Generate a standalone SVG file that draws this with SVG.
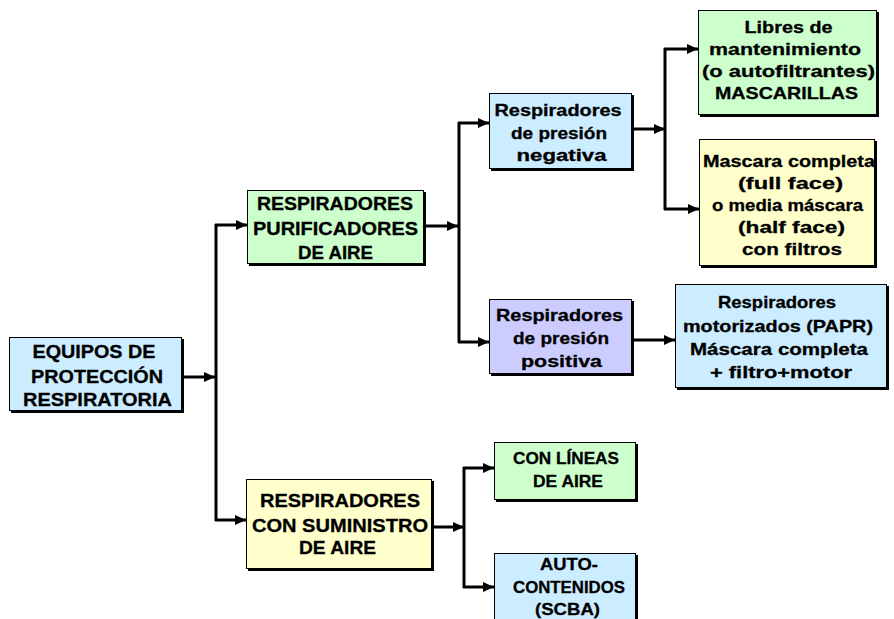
<svg xmlns="http://www.w3.org/2000/svg" width="894" height="619" viewBox="0 0 894 619">
<defs>
<style>
.sh{fill:#000}
.bx{stroke:#000;stroke-width:1}
.blue{fill:#CCECFF}
.green{fill:#CCFFCC}
.yellow{fill:#FFFFCC}
.purple{fill:#CCCCFF}
text{font-family:"Liberation Sans",Arial,sans-serif;font-weight:bold;fill:#000;stroke:#000;stroke-width:0.3;text-anchor:middle}
.f19{font-size:19px}
.f18{font-size:18px}
.f17{font-size:17px}
.f16{font-size:16.5px}
.ln{fill:none;stroke:#000;stroke-width:3}
</style>
<marker id="ah" markerUnits="userSpaceOnUse" markerWidth="12" markerHeight="10" refX="11" refY="5" orient="auto">
<path d="M0,0 L11,5 L0,10 Z" fill="#000"/>
</marker>
</defs>
<rect width="894" height="619" fill="#fff"/>

<g id="connectors">
<line class="ln" x1="184" y1="377" x2="215" y2="377" marker-end="url(#ah)"/>
<line class="ln" x1="216" y1="224" x2="216" y2="521"/>
<line class="ln" x1="215" y1="225" x2="247" y2="225" marker-end="url(#ah)"/>
<line class="ln" x1="215" y1="520" x2="246" y2="520" marker-end="url(#ah)"/>

<line class="ln" x1="426" y1="226" x2="458" y2="226" marker-end="url(#ah)"/>
<line class="ln" x1="459" y1="122" x2="459" y2="343"/>
<line class="ln" x1="458" y1="123" x2="489" y2="123" marker-end="url(#ah)"/>
<line class="ln" x1="458" y1="342" x2="489" y2="342" marker-end="url(#ah)"/>

<line class="ln" x1="634" y1="129" x2="665" y2="129" marker-end="url(#ah)"/>
<line class="ln" x1="665" y1="48" x2="665" y2="210"/>
<line class="ln" x1="664" y1="49" x2="698" y2="49" marker-end="url(#ah)"/>
<line class="ln" x1="664" y1="209" x2="699" y2="209" marker-end="url(#ah)"/>

<line class="ln" x1="634" y1="340" x2="675" y2="340" marker-end="url(#ah)"/>

<line class="ln" x1="434" y1="527" x2="464" y2="527" marker-end="url(#ah)"/>
<line class="ln" x1="464" y1="467" x2="464" y2="588"/>
<line class="ln" x1="463" y1="468" x2="494" y2="468" marker-end="url(#ah)"/>
<line class="ln" x1="463" y1="587" x2="494" y2="587" marker-end="url(#ah)"/>
</g>

<g id="equipos">
<rect class="sh" x="11" y="339" width="173" height="74"/>
<rect class="bx blue" x="9.5" y="337.5" width="172" height="73"/>
<text class="f19" x="94" y="358" textLength="123" lengthAdjust="spacingAndGlyphs">EQUIPOS DE</text>
<text class="f19" x="97" y="383" textLength="132" lengthAdjust="spacingAndGlyphs">PROTECCIÓN</text>
<text class="f19" x="97.5" y="406" textLength="149" lengthAdjust="spacingAndGlyphs">RESPIRATORIA</text>
</g>

<g id="purificadores">
<rect class="sh" x="249" y="192" width="177" height="74"/>
<rect class="bx green" x="247.5" y="190.5" width="176" height="73"/>
<text class="f18" x="335" y="210" textLength="156" lengthAdjust="spacingAndGlyphs">RESPIRADORES</text>
<text class="f18" x="335.5" y="235" textLength="165" lengthAdjust="spacingAndGlyphs">PURIFICADORES</text>
<text class="f18" x="335.5" y="259" textLength="75" lengthAdjust="spacingAndGlyphs">DE AIRE</text>
</g>

<g id="suministro">
<rect class="sh" x="248" y="481" width="186" height="90"/>
<rect class="bx yellow" x="246.5" y="479.5" width="185" height="89"/>
<text class="f18" x="340" y="507" textLength="160" lengthAdjust="spacingAndGlyphs">RESPIRADORES</text>
<text class="f18" x="340" y="532" textLength="176" lengthAdjust="spacingAndGlyphs">CON SUMINISTRO</text>
<text class="f18" x="337.5" y="554" textLength="77" lengthAdjust="spacingAndGlyphs">DE AIRE</text>
</g>

<g id="negativa">
<rect class="sh" x="491" y="95" width="143" height="76"/>
<rect class="bx blue" x="489.5" y="93.5" width="142" height="75"/>
<text class="f16" x="558" y="116" textLength="127" lengthAdjust="spacingAndGlyphs">Respiradores</text>
<text class="f16" x="559" y="139" textLength="96" lengthAdjust="spacingAndGlyphs">de presión</text>
<text class="f16" x="561.5" y="161" textLength="90" lengthAdjust="spacingAndGlyphs">negativa</text>
</g>

<g id="positiva">
<rect class="sh" x="491" y="301" width="143" height="75"/>
<rect class="bx purple" x="489.5" y="299.5" width="142" height="74"/>
<text class="f16" x="559.5" y="321" textLength="127" lengthAdjust="spacingAndGlyphs">Respiradores</text>
<text class="f16" x="561" y="344" textLength="96" lengthAdjust="spacingAndGlyphs">de presión</text>
<text class="f16" x="561.5" y="367" textLength="81" lengthAdjust="spacingAndGlyphs">positiva</text>
</g>

<g id="mascarillas">
<rect class="sh" x="700" y="12" width="179" height="105"/>
<rect class="bx green" x="698.5" y="10.5" width="178" height="104"/>
<text class="f16" x="788.5" y="33" textLength="88" lengthAdjust="spacingAndGlyphs">Libres de</text>
<text class="f16" x="785" y="55" textLength="152" lengthAdjust="spacingAndGlyphs">mantenimiento</text>
<text class="f16" x="788.5" y="77" textLength="173" lengthAdjust="spacingAndGlyphs">(o autofiltrantes)</text>
<text class="f16" x="786.5" y="99" textLength="143" lengthAdjust="spacingAndGlyphs">MASCARILLAS</text>
</g>

<g id="mascara-completa">
<rect class="sh" x="701" y="141" width="176" height="127"/>
<rect class="bx yellow" x="699.5" y="139.5" width="175" height="126"/>
<text class="f17" x="789" y="167" textLength="172" lengthAdjust="spacingAndGlyphs">Mascara completa</text>
<text class="f17" x="790.5" y="189" textLength="105" lengthAdjust="spacingAndGlyphs">(full face)</text>
<text class="f17" x="787.5" y="211" textLength="151" lengthAdjust="spacingAndGlyphs">o media máscara</text>
<text class="f17" x="791.5" y="233" textLength="107" lengthAdjust="spacingAndGlyphs">(half face)</text>
<text class="f17" x="792" y="255" textLength="100" lengthAdjust="spacingAndGlyphs">con filtros</text>
</g>

<g id="papr">
<rect class="sh" x="677" y="286" width="212" height="104"/>
<rect class="bx blue" x="675.5" y="284.5" width="211" height="103"/>
<text class="f17" x="777" y="308" textLength="118" lengthAdjust="spacingAndGlyphs">Respiradores</text>
<text class="f17" x="778" y="332" textLength="190" lengthAdjust="spacingAndGlyphs">motorizados (PAPR)</text>
<text class="f17" x="779" y="355" textLength="178" lengthAdjust="spacingAndGlyphs">Máscara completa</text>
<text class="f17" x="781" y="378" textLength="142" lengthAdjust="spacingAndGlyphs">+ filtro+motor</text>
</g>

<g id="lineas">
<rect class="sh" x="496" y="444" width="142" height="58"/>
<rect class="bx green" x="494.5" y="442.5" width="141" height="57"/>
<text class="f16" x="566" y="464" textLength="106" lengthAdjust="spacingAndGlyphs">CON LÍNEAS</text>
<text class="f16" x="568" y="487" textLength="70" lengthAdjust="spacingAndGlyphs">DE AIRE</text>
</g>

<g id="autocontenidos">
<rect class="sh" x="496" y="555" width="142" height="70"/>
<rect class="bx blue" x="494.5" y="553.5" width="141" height="69"/>
<text class="f16" x="569" y="570" textLength="58" lengthAdjust="spacingAndGlyphs">AUTO-</text>
<text class="f16" x="569" y="593" textLength="112" lengthAdjust="spacingAndGlyphs">CONTENIDOS</text>
<text class="f16" x="567.5" y="615" textLength="65" lengthAdjust="spacingAndGlyphs">(SCBA)</text>
</g>
</svg>
